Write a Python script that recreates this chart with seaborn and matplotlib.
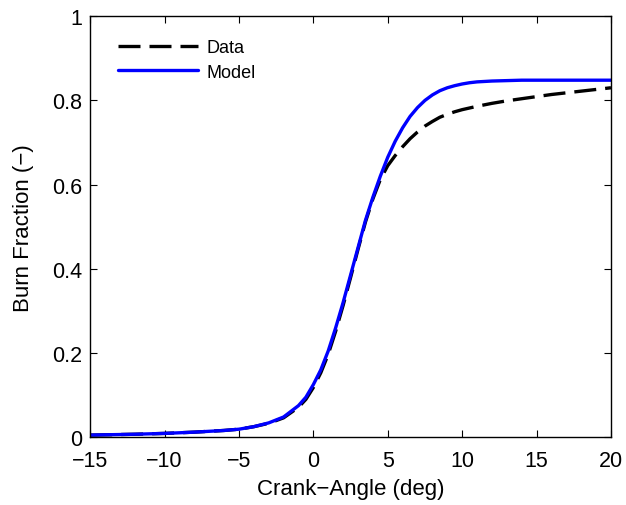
import numpy as np
import pandas as pd
import matplotlib
matplotlib.use("Agg")
import matplotlib.pyplot as plt
import seaborn as sns

# Measured burn fraction vs crank angle
data_angle = [-15, -12, -10, -8, -6, -5, -4, -3, -2, -1, -0.5, 0, 0.5, 1, 1.5, 2, 2.5,
              3, 3.5, 4, 4.5, 5, 5.5, 6, 6.5, 7, 7.5, 8, 8.5, 9, 9.5, 10, 11, 12, 13,
              14, 15, 16, 17, 18, 19, 20]
data_frac = [0.005, 0.007, 0.009, 0.012, 0.016, 0.019, 0.025, 0.033, 0.046, 0.071, 0.090,
             0.118, 0.153, 0.197, 0.252, 0.313, 0.379, 0.446, 0.511, 0.566, 0.612,
             0.645, 0.669, 0.690, 0.709, 0.725, 0.739, 0.750, 0.760, 0.767, 0.773,
             0.778, 0.786, 0.793, 0.799, 0.804, 0.809, 0.814, 0.818, 0.822, 0.826, 0.830]

# Model burn fraction vs crank angle
model_angle = [-15, -12, -10, -8, -6, -5, -4, -3, -2, -1, -0.5, 0, 0.5, 1, 1.5, 2, 2.5,
               3, 3.5, 4, 4.5, 5, 5.5, 6, 6.5, 7, 7.5, 8, 8.5, 9, 9.5, 10, 10.5, 11,
               12, 13, 14, 20]
model_frac = [0.005, 0.007, 0.009, 0.012, 0.016, 0.019, 0.025, 0.034, 0.048, 0.075, 0.095,
              0.125, 0.160, 0.205, 0.260, 0.320, 0.385, 0.450, 0.515, 0.570, 0.620,
              0.665, 0.703, 0.735, 0.762, 0.783, 0.800, 0.813, 0.823, 0.830, 0.835,
              0.839, 0.842, 0.844, 0.846, 0.847, 0.848, 0.848]

df = pd.concat([
    pd.DataFrame({"angle": data_angle, "frac": data_frac, "series": "Data"}),
    pd.DataFrame({"angle": model_angle, "frac": model_frac, "series": "Model"}),
], ignore_index=True)

sns.set_style("white")
plt.rcParams["font.family"] = ["Liberation Sans", "DejaVu Sans"]
plt.rcParams["text.color"] = "black"
plt.rcParams["axes.labelcolor"] = "black"
plt.rcParams["xtick.color"] = "black"
plt.rcParams["ytick.color"] = "black"

fig = plt.figure(figsize=(6.26, 5.06), dpi=100)
ax = fig.add_axes([0.144, 0.134, 0.832, 0.832])

sns.lineplot(data=df, x="angle", y="frac", hue="series", style="series",
             hue_order=["Data", "Model"], style_order=["Data", "Model"],
             palette={"Data": "black", "Model": "blue"},
             dashes={"Data": (6.6, 2.7), "Model": ""},
             linewidth=2.4, sort=False, estimator=None, ax=ax)

ax.set_xlim(-15, 20)
ax.set_ylim(0, 1)
ax.set_xticks([-15, -10, -5, 0, 5, 10, 15, 20])
ax.set_yticks([0, 0.2, 0.4, 0.6, 0.8, 1])
ax.set_yticklabels(["0", "0.2", "0.4", "0.6", "0.8", "1"])
ax.set_xlabel("Crank\u2212Angle (deg)", fontsize=16, labelpad=5)
ax.set_ylabel("Burn Fraction (\u2212)", fontsize=16, labelpad=13)
ax.tick_params(direction="in", length=5, width=0.8, labelsize=15.5,
               top=True, right=True, bottom=True, left=True,
               color="black", labelcolor="black")
ax.tick_params(axis="x", pad=9)
ax.tick_params(axis="y", pad=6)
for sp in ax.spines.values():
    sp.set_color("black")
    sp.set_linewidth(1.0)

leg = ax.legend(loc="upper left", bbox_to_anchor=(0.040, 0.962), frameon=False,
                fontsize=13, handlelength=4.4, handletextpad=0.5,
                labelspacing=0.4, borderaxespad=0.0, borderpad=0.4)
leg.set_title(None)
for t in leg.get_texts():
    t.set_color("black")

fig.savefig("out.png", dpi=100)
